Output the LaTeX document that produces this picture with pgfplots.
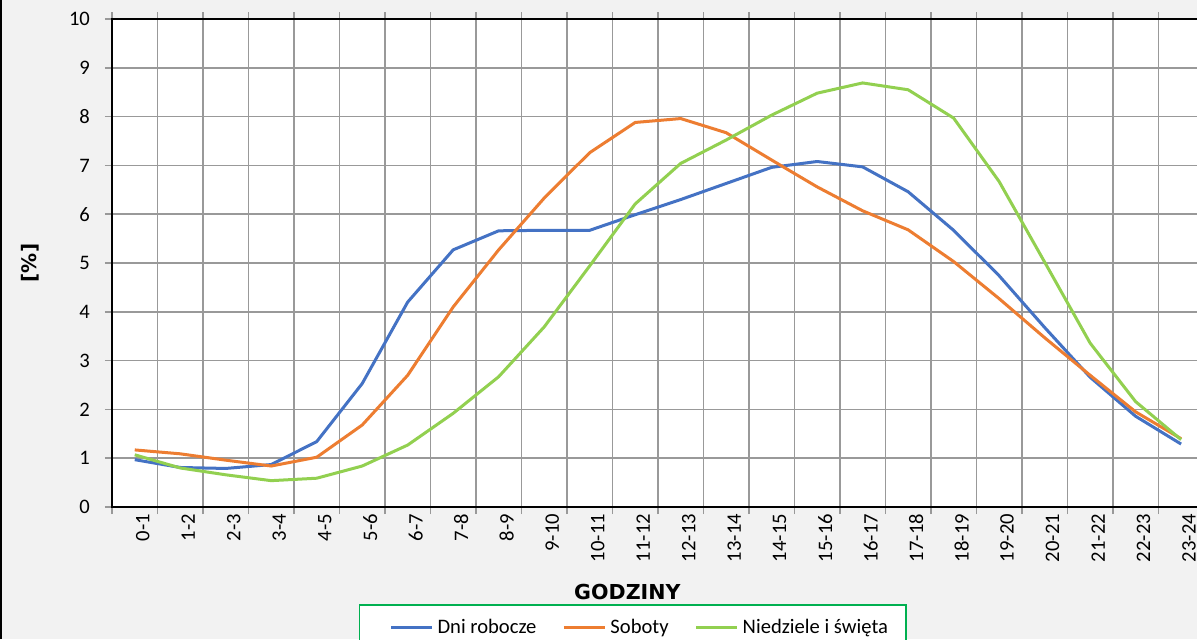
\documentclass[border=0pt]{standalone}
\usepackage{fontspec}
\setmainfont{Carlito}
\newfontfamily\dejavu{DejaVu Sans}
\usepackage{pgfplots}
\pgfplotsset{compat=1.18}
\usepackage{pgfplotstable}
\definecolor{cBlue}{HTML}{4472C4}
\definecolor{cOrange}{HTML}{ED7D31}
\definecolor{cGreen}{HTML}{92D050}
\definecolor{cLegend}{HTML}{00B050}
\definecolor{cGrid}{HTML}{999999}
\definecolor{cBack}{HTML}{F2F2F2}

\pgfplotstableread{
i b o g
0 0.97 1.17 1.07
1 0.81 1.09 0.80
2 0.79 0.96 0.66
3 0.87 0.84 0.54
4 1.34 1.02 0.59
5 2.53 1.68 0.84
6 4.20 2.70 1.27
7 5.27 4.10 1.92
8 5.66 5.27 2.67
9 5.67 6.33 3.69
10 5.67 7.26 4.94
11 5.99 7.88 6.21
12 6.30 7.96 7.04
13 6.63 7.67 7.52
14 6.96 7.11 8.03
15 7.08 6.56 8.48
16 6.97 6.07 8.69
17 6.46 5.68 8.55
18 5.67 5.03 7.97
19 4.74 4.27 6.67
20 3.68 3.47 5.02
21 2.66 2.70 3.36
22 1.86 1.95 2.16
23 1.29 1.40 1.38
}\data

\begin{document}
\begin{tikzpicture}
\useasboundingbox (0,0) rectangle (598.5pt,319.5pt);
\fill[cBack] (0,0) rectangle (598.5pt,319.5pt);
\draw[black, line width=1pt] (0.5pt,0) -- (0.5pt,319.5pt);
\begin{axis}[
  at={(56pt,66pt)}, anchor=south west,
  scale only axis, width=542.5pt, height=244pt,
  xmin=-0.5, xmax=23.35, ymin=0, ymax=10,
  clip=false,
  axis background/.style={fill=white},
  axis line style={draw=none},
  xtick={-0.5,0.5,...,22.5}, xticklabels={},
  extra x ticks={0,...,23},
  extra x tick labels={0-1,1-2,2-3,3-4,4-5,5-6,6-7,7-8,8-9,9-10,10-11,11-12,12-13,13-14,14-15,15-16,16-17,17-18,18-19,19-20,20-21,21-22,22-23,23-24},
  extra x tick style={grid=none, major tick length=0pt, tick style={draw=none}},
  xmajorgrids, ymajorgrids,
  ytick={0,...,10},
  grid style={cGrid, line width=0.75pt},
  tick style={cGrid, line width=0.75pt},
  tick align=outside, major tick length=3.5pt,
  /pgf/number format/assume math mode=true,
  x tick label style={rotate=90, anchor=east, font=\fontsize{10.3pt}{12pt}\selectfont, yshift=-4pt},
  y tick label style={font=\fontsize{10.3pt}{12pt}\selectfont, xshift=-4pt},
  xlabel={\dejavu\bfseries GODZINY},
  xlabel style={at={(axis description cs:0.475,-0.174)}, anchor=center, font=\fontsize{10.3pt}{12pt}\selectfont},
  ylabel={\dejavu\bfseries [\%]},
  ylabel style={at={(axis description cs:-0.0756,0.5)}, anchor=center, font=\fontsize{10pt}{12pt}\selectfont},
  legend columns=3,
  legend style={at={(axis description cs:0.480,-0.199)}, anchor=north, draw=cLegend, line width=0.75pt, fill=white,
    font=\fontsize{10.3pt}{12pt}\selectfont,
    /tikz/every even column/.append style={column sep=3pt},
    inner xsep=7pt, inner ysep=5pt},
  legend image code/.code={\path (0pt,0pt); \draw[#1, line width=1.5pt] (8pt,0pt) -- (28.5pt,0pt);},
  every axis plot/.append style={line width=1.5pt, line join=round, mark=none},
]
\addplot[cBlue] table[x=i, y=b] {\data};
\addlegendentry{Dni robocze}
\addplot[cOrange] table[x=i, y=o] {\data};
\addlegendentry{Soboty}
\addplot[cGreen] table[x=i, y=g] {\data};
\addlegendentry{Niedziele i święta}
\draw[black, line width=1.25pt] (rel axis cs:1,1) -- (rel axis cs:0,1) -- (rel axis cs:0,0) -- (rel axis cs:1,0);
\end{axis}
\end{tikzpicture}
\end{document}
